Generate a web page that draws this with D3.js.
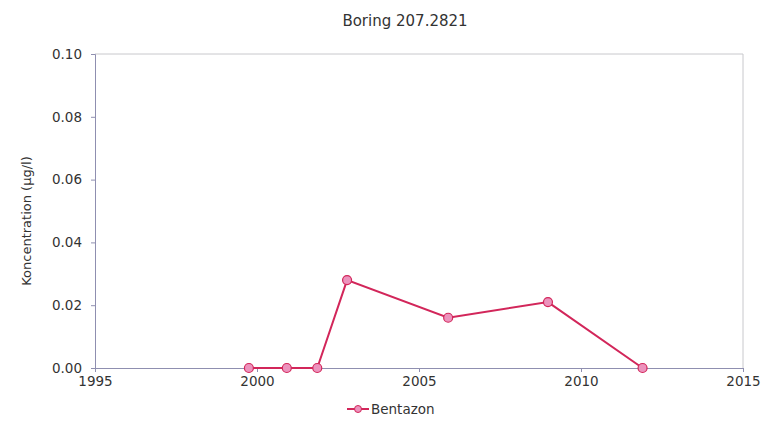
<!DOCTYPE html>
<html><head><meta charset="utf-8">
<script src="https://cdn.jsdelivr.net/npm/d3@7"></script>
<style>body{margin:0;background:#fff;} text{font-family:"DejaVu Sans",Verdana,sans-serif;}</style>
</head><body>
<svg id="c" width="766" height="423"></svg>
<script>
const title = "Boring 207.2821";
const yLabel = "Koncentration (µg/l)";
const seriesName = "Bentazon";
const years = [1999.75, 2000.92, 2001.86, 2002.78, 2005.9, 2008.98, 2011.9];
const values = [0, 0, 0, 0.028, 0.016, 0.021, 0];
const xTicks = [1995, 2000, 2005, 2010, 2015];
const yTicks = [0, 0.02, 0.04, 0.06, 0.08, 0.10];

const svg = d3.select("#c");
const m = {l:95, r:23, t:54, b:55};
const W = 766, H = 423;
const x = d3.scaleLinear().domain([1995, 2015]).range([m.l, W - m.r]);
const y = d3.scaleLinear().domain([0, 0.10]).range([H - m.b, m.t]);

// frame top/right
svg.append("path")
  .attr("d", `M${m.l},${m.t}H${W-m.r}V${H-m.b}`)
  .attr("fill","none").attr("stroke","#c8c8cc").attr("stroke-width",1);

const gy = svg.append("g").attr("transform",`translate(${m.l},0)`)
  .call(d3.axisLeft(y).tickValues(yTicks).tickFormat(d3.format(".2f")).tickSize(4).tickPadding(9));
const gx = svg.append("g").attr("transform",`translate(0,${H-m.b})`)
  .call(d3.axisBottom(x).tickValues(xTicks).tickFormat(d3.format("d")).tickSize(4).tickPadding(4));
[gy, gx].forEach(g => {
  g.select(".domain").attr("stroke","#8f8fb0");
  g.selectAll(".tick line").attr("stroke","#8f8fb0");
  g.selectAll("text").attr("font-size", 13.5).attr("fill","#333").attr("font-family",'"DejaVu Sans",Verdana,sans-serif');
});

svg.append("text").attr("x", 405).attr("y", 26).attr("text-anchor","middle")
  .attr("font-size",15).attr("fill","#333").text(title);
svg.append("text").attr("transform",`translate(31,${(m.t + H - m.b)/2 + 10}) rotate(-90)`)
  .attr("text-anchor","middle").attr("font-size",13).attr("fill","#333").text(yLabel);

const pts = years.map((d,i)=>[d, values[i]]);
const lineColor = "#d2265a", fillColor = "#ec93bd";
svg.append("path").datum(pts)
  .attr("d", d3.line().x(d=>x(d[0])).y(d=>y(d[1])))
  .attr("fill","none").attr("stroke",lineColor).attr("stroke-width",2);
svg.selectAll("circle.p").data(pts).enter().append("circle").attr("class","p")
  .attr("cx",d=>x(d[0])).attr("cy",d=>y(d[1])).attr("r",4.5)
  .attr("fill",fillColor).attr("stroke",lineColor).attr("stroke-width",1.2);

// legend
const lg = svg.append("g").attr("transform","translate(347,409)");
lg.append("line").attr("x1",0).attr("x2",22).attr("y1",0).attr("y2",0).attr("stroke",lineColor).attr("stroke-width",2);
lg.append("circle").attr("cx",11).attr("cy",0).attr("r",3.5).attr("fill",fillColor).attr("stroke",lineColor).attr("stroke-width",1);
lg.append("text").attr("x",24).attr("y",5).attr("font-size",13.5).attr("fill","#333").text(seriesName);
</script>
</body></html>
